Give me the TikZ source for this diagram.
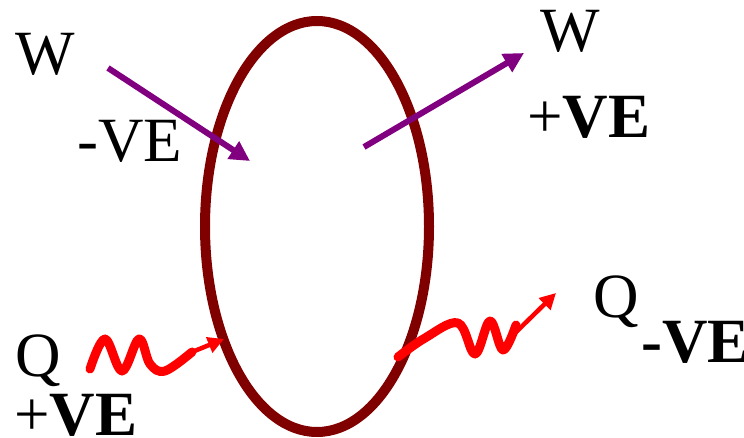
\documentclass[tikz,border=0pt]{standalone}
\usepackage{fontspec}
\setmainfont{Liberation Serif}
\usetikzlibrary{arrows.meta,shapes.geometric}
\definecolor{sysred}{RGB}{128,0,0}
\definecolor{workpurple}{RGB}{128,0,128}
\definecolor{heatred}{RGB}{255,0,0}
\begin{document}
\begin{tikzpicture}[x=1pt,y=-1pt,
  lbl/.style={anchor=base west,inner sep=0pt,font=\fontsize{63}{70}\selectfont},
  warrow/.style={draw=workpurple,line width=6,-{Triangle[length=20,width=20]}},
  qwave/.style={draw=heatred,line width=9,line cap=round,line join=round},
  qarrow/.style={draw=heatred,line width=4.5,-{Triangle[length=16,width=16]}}]
\useasboundingbox (0,0) rectangle (744,438);
% system boundary
\node (sys) [draw=sysred,line width=10,ellipse,minimum width=224,minimum height=411,inner sep=0pt] at (317,226.5) {};
% labels
\node[lbl] (wl) at (15,75) {W};
\node[lbl] (wlv) at (77,162) {-VE};
\node[lbl] (wr) at (540,52) {W};
\node[lbl] (wrv) at (527,138) {+\textbf{VE}};
\node[lbl] (ql) at (15,376) {Q};
\node[lbl] (qlv) at (14,435) {+\textbf{VE}};
\node[lbl] (qr) at (593,317) {Q};
\node[lbl] (qrv) at (641,362) {\textbf{-VE}};
% work arrows
\coordinate (w1s) at (108,68);
\coordinate (w1e) at (250,161);
\coordinate (w2s) at (364,147);
\coordinate (w2e) at (524,53);
\draw[warrow] (w1s) -- (w1e);
\draw[warrow] (w2s) -- (w2e);
% heat in
\coordinate (q1e) at (192,352);
\coordinate (q1t) at (224,339);
\draw[qwave] plot[smooth,tension=0.6] coordinates {(90,369) (105,339) (122,371) (139,339) (150,364) (165,371) (192,352)};
\draw[qarrow] (q1e) -- (q1t);
% heat out
\coordinate (q2s) at (512,336);
\coordinate (q2t) at (556,293);
\draw[qwave] plot[smooth,tension=0.6] coordinates {(398,357) (425,338) (458,323) (475,354) (490,321) (503,350) (516,325)};
\draw[qarrow] (q2s) -- (q2t);
\end{tikzpicture}
\end{document}
